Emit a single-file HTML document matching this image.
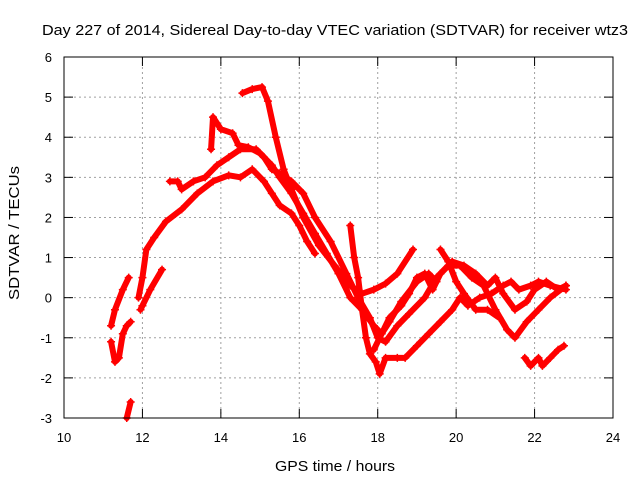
<!DOCTYPE html>
<html><head><meta charset="utf-8"><style>
body{margin:0;background:#fff}
svg{display:block;font-family:"Liberation Sans",sans-serif}
</style></head><body>
<svg id="chart" width="640" height="480">
<text x="335" y="35" text-anchor="middle" font-size="15" textLength="586" lengthAdjust="spacingAndGlyphs">Day 227 of 2014, Sidereal Day-to-day VTEC variation (SDTVAR) for receiver wtz3</text>
<text x="335" y="471" text-anchor="middle" font-size="15" textLength="120" lengthAdjust="spacingAndGlyphs">GPS time / hours</text>
<text transform="translate(19,233) rotate(-90)" text-anchor="middle" font-size="15" textLength="134" lengthAdjust="spacingAndGlyphs">SDTVAR / TECUs</text>
<g id="grid"></g><g id="ticks"></g><g id="marks"></g>
<rect x="64" y="57" width="549" height="361" fill="none" stroke="#000" stroke-width="1"/>
</svg>
<script>
const xTicks=[10,12,14,16,18,20,22,24];
const yTicks=[-3,-2,-1,0,1,2,3,4,5,6];
const trackA=[[14.55,5.1],[14.8,5.2],[15.05,5.25],[15.2,4.9],[15.4,4.0],[15.6,3.2],[15.8,2.7],[16.1,2.0],[16.5,1.3],[16.9,0.8],[17.3,0.3],[17.6,0.1],[17.9,0.2],[18.2,0.35],[18.5,0.6],[18.9,1.2]];
const trackB=[[13.75,3.7],[13.8,4.5],[14.0,4.2],[14.3,4.1],[14.45,3.8],[14.7,3.75],[15.0,3.6],[15.3,3.3],[15.5,3.0],[15.8,2.6],[16.1,2.1],[16.4,1.6],[16.7,1.1],[17.0,0.6],[17.3,0.0],[17.6,-0.3],[17.9,-0.7],[18.1,-0.9],[18.3,-0.6],[18.6,-0.1],[19.0,0.4],[19.3,0.6],[19.5,0.4]];
const trackC=[[11.9,0.0],[12.0,0.5],[12.1,1.2],[12.3,1.5],[12.6,1.9],[13.0,2.2],[13.4,2.6],[13.8,2.9],[14.2,3.05],[14.5,3.0],[14.8,3.2],[15.1,2.9],[15.3,2.6],[15.5,2.3],[15.8,2.1],[16.0,1.8],[16.2,1.4],[16.4,1.1]];
const trackD=[[12.7,2.9],[12.9,2.9],[13.0,2.7],[13.3,2.9],[13.6,3.0],[13.9,3.3],[14.2,3.5],[14.5,3.7],[14.9,3.7],[15.1,3.5],[15.3,3.2],[15.5,3.1],[15.8,2.9],[16.1,2.6],[16.4,2.0],[16.8,1.4],[17.2,0.6],[17.5,0.0],[17.8,-0.5],[18.0,-1.0],[18.2,-1.1],[18.5,-0.7],[18.8,-0.4],[19.2,0.0],[19.5,0.5],[19.8,0.8],[20.1,0.8],[20.4,0.5],[20.7,0.3],[21.0,-0.3],[21.3,-0.8],[21.5,-1.0],[21.8,-0.6],[22.1,-0.3],[22.4,0.0],[22.8,0.3]];
const trackE=[[11.95,-0.3],[12.0,-0.2],[12.2,0.2],[12.5,0.7]];
const trackF=[[11.2,-0.7],[11.3,-0.3],[11.5,0.2],[11.65,0.5]];
const trackG=[[11.2,-1.1],[11.3,-1.6],[11.4,-1.5],[11.5,-0.9],[11.6,-0.7],[11.7,-0.6]];
const trackH=[[11.6,-3.0],[11.7,-2.6]];
const trackI=[[17.3,1.8],[17.4,1.0],[17.5,0.5],[17.6,-0.3],[17.7,-1.0],[17.8,-1.4],[17.95,-1.6],[18.05,-1.9],[18.2,-1.5],[18.5,-1.5],[18.7,-1.5],[19.0,-1.2],[19.3,-0.9],[19.6,-0.6],[19.9,-0.3],[20.1,0.0],[20.3,-0.2],[20.6,0.0],[20.9,0.1],[21.2,0.3],[21.4,0.4],[21.6,0.2],[21.9,0.3],[22.1,0.4],[22.4,0.3],[22.8,0.2]];
const trackJ=[[17.9,-1.3],[18.1,-0.9],[18.3,-0.5],[18.6,-0.2],[18.8,0.1],[19.0,0.5],[19.2,0.6],[19.4,0.2],[19.6,0.6],[19.9,0.9],[20.2,0.8],[20.5,0.6],[20.8,0.3],[21.0,0.5],[21.2,0.1],[21.5,-0.3],[21.8,-0.1],[22.0,0.2],[22.3,0.4],[22.6,0.2],[22.8,0.3]];
const trackK=[[19.6,1.2],[19.8,0.9],[20.0,0.4],[20.2,0.1],[20.5,-0.3],[20.8,-0.3],[21.1,-0.5]];
const trackL=[[21.75,-1.5],[21.9,-1.7],[22.1,-1.5],[22.2,-1.7],[22.4,-1.5],[22.6,-1.3],[22.75,-1.2]];
const tracks=[trackA,trackB,trackC,trackD,trackE,trackF,trackG,trackH,trackI,trackJ,trackK,trackL];

const NS='http://www.w3.org/2000/svg';
const X=t=>64+(t-10)*(549/14);
const Y=v=>57+(6-v)*(361/9);
function mk(tag,attrs,parent){const e=document.createElementNS(NS,tag);for(const k in attrs)e.setAttribute(k,attrs[k]);parent.appendChild(e);return e;}
const grid=document.getElementById('grid'),ticks=document.getElementById('ticks'),marks=document.getElementById('marks');
xTicks.forEach(t=>{
  if(t>10&&t<24){const g=mk('line',{x1:X(t),x2:X(t),y1:57,y2:418,stroke:'#a0a0a0','stroke-dasharray':'2,3'},grid);
  
  }
  mk('line',{x1:X(t),x2:X(t),y1:418,y2:409,stroke:'#000'},ticks);
  mk('line',{x1:X(t),x2:X(t),y1:57,y2:66,stroke:'#000'},ticks);
  const l=mk('text',{x:X(t),y:442,'text-anchor':'middle','font-size':13},ticks);l.textContent=t;
  
  
});
yTicks.forEach(v=>{
  if(v>-3&&v<6){const g=mk('line',{x1:64,x2:613,y1:Y(v),y2:Y(v),stroke:'#a0a0a0','stroke-dasharray':'2,3'},grid);
  
  }
  mk('line',{x1:64,x2:73,y1:Y(v),y2:Y(v),stroke:'#000'},ticks);
  mk('line',{x1:613,x2:604,y1:Y(v),y2:Y(v),stroke:'#000'},ticks);
  const l=mk('text',{x:52,y:Y(v)+5,'text-anchor':'end','font-size':13},ticks);l.textContent=v;
  
  
});
tracks.forEach((tr,i)=>{
  const p=mk('polyline',{points:tr.map(d=>X(d[0])+','+Y(d[1])).join(' '),fill:'none',stroke:'#ff0000','stroke-width':6,'stroke-linejoin':'round','stroke-linecap':'round'},marks);
  
  
  tr.forEach(d=>{
    const x=X(d[0]),y=Y(d[1]);
    const m=mk('path',{d:`M${x-4},${y}H${x+4}M${x},${y-4}V${y+4}`,stroke:'#ff0000','stroke-width':1.5},marks);
    
    
  });
});
</script>
</body></html>
